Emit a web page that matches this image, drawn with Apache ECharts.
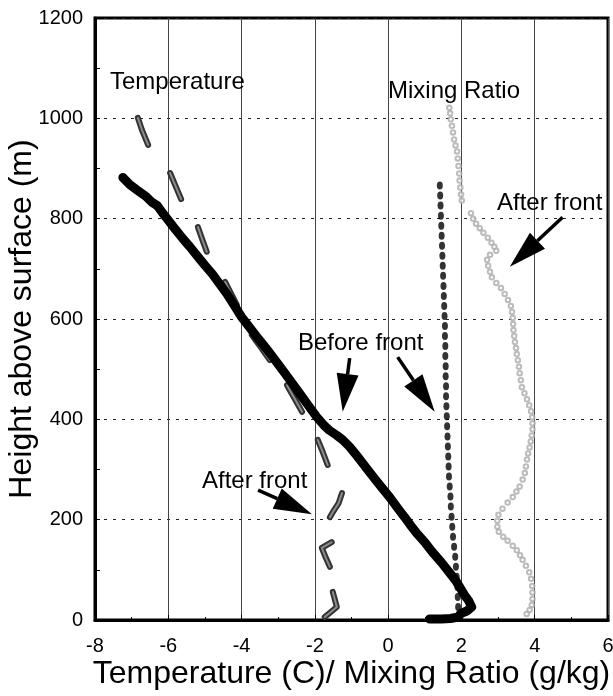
<!DOCTYPE html>
<html><head><meta charset="utf-8">
<script src="https://cdn.jsdelivr.net/npm/echarts@6/dist/echarts.min.js"></script>
<style>html,body{margin:0;padding:0;background:#fff}#c{width:613px;height:696px}</style>
</head><body><div id="c"></div>
<script>
// ---- data ----
const xTicks = [-8, -6, -4, -2, 0, 2, 4, 6];
const yTicks = [0, 200, 400, 600, 800, 1000, 1200];

// Temperature, before front (thick black line) [x, height]
const tempBefore = [
  [-7.24, 882], [-7.05, 868], [-6.85, 857], [-6.62, 845], [-6.45, 833], [-6.3, 826], [-6.18, 814],
  [-6.0, 797], [-5.8, 778], [-5.6, 760], [-5.4, 743], [-5.2, 725], [-5.0, 707], [-4.8, 690],
  [-4.6, 670], [-4.4, 650], [-4.2, 627], [-4.0, 604], [-3.8, 585], [-3.6, 566], [-3.4, 548],
  [-3.23, 532], [-3.0, 510], [-2.8, 490], [-2.6, 470], [-2.4, 450], [-2.2, 430], [-1.95, 405],
  [-1.75, 388], [-1.6, 378], [-1.4, 368], [-1.24, 359], [-1.05, 345], [-0.85, 327], [-0.7, 313],
  [-0.5, 294], [-0.35, 280], [-0.15, 262], [0.04, 245], [0.25, 224], [0.45, 205], [0.6, 190],
  [0.78, 173], [1.0, 155], [1.2, 136], [1.45, 115], [1.68, 94], [1.85, 78], [1.95, 66],
  [2.08, 50], [2.2, 38], [2.28, 26], [2.15, 18], [1.98, 13], [1.92, 6], [1.7, 3], [1.45, 2], [1.13, 2]
];

// Mixing ratio, before front (big black dots) [x, height]
const mixBefore = [
  [1.41, 866], [1.42, 846], [1.43, 826], [1.44, 806], [1.45, 786], [1.46, 766], [1.47, 746],
  [1.48, 726], [1.49, 706], [1.50, 686], [1.51, 666], [1.52, 646], [1.53, 626], [1.54, 606],
  [1.55, 586], [1.55, 566], [1.56, 546], [1.56, 526], [1.57, 506], [1.57, 486], [1.58, 466],
  [1.58, 446], [1.59, 426], [1.60, 406], [1.61, 386], [1.62, 366], [1.63, 346], [1.64, 326],
  [1.65, 306], [1.66, 286], [1.68, 266], [1.70, 246], [1.71, 226], [1.73, 206], [1.75, 186],
  [1.77, 166], [1.80, 146], [1.83, 126], [1.85, 106], [1.87, 86], [1.89, 66], [1.90, 46], [1.91, 26]
];

// Temperature, after front (broken gray segments) [x, height]
const tempAfterSegments = [
  [[-6.83, 1001], [-6.72, 977], [-6.55, 947]],
  [[-5.95, 891], [-5.80, 865], [-5.65, 839]],
  [[-5.19, 783], [-5.07, 758], [-4.95, 734]],
  [[-4.45, 674], [-4.29, 651], [-4.13, 628]],
  [[-3.72, 568], [-3.47, 543], [-3.23, 518]],
  [[-2.76, 468], [-2.55, 441], [-2.35, 415]],
  [[-1.92, 359], [-1.78, 334], [-1.65, 309]],
  [[-1.26, 253], [-1.35, 233], [-1.51, 215], [-1.59, 205]],
  [[-1.54, 155], [-1.81, 144], [-1.70, 124], [-1.59, 106]],
  [[-1.51, 56], [-1.40, 26], [-1.73, 6]]
];

// Mixing ratio, after front (small light-gray open circles) [x, height]
const mixAfter = [
  [1.67, 1021], [1.69, 1010], [1.71, 998], [1.74, 985], [1.77, 972], [1.80, 958], [1.84, 946],
  [1.88, 934], [1.90, 920], [1.92, 905], [1.94, 890], [1.95, 876], [1.97, 862], [1.99, 848], [2.01, 836],
  [2.26, 811], [2.32, 800], [2.40, 790], [2.50, 781], [2.60, 772], [2.72, 762], [2.82, 752], [2.90, 744], [2.95, 736],
  [2.78, 728], [2.70, 718], [2.73, 706], [2.78, 694], [2.83, 683], [2.95, 672], [3.08, 662], [3.18, 650],
  [3.27, 638], [3.35, 626], [3.38, 614], [3.40, 602], [3.41, 590], [3.42, 578], [3.44, 566], [3.46, 554],
  [3.49, 542], [3.51, 530], [3.54, 518], [3.57, 505], [3.59, 492], [3.62, 478], [3.65, 464], [3.72, 452],
  [3.79, 440], [3.85, 428], [3.90, 416], [3.93, 404], [3.94, 392], [3.94, 380], [3.92, 368], [3.89, 356],
  [3.86, 344], [3.82, 332], [3.79, 320], [3.76, 306], [3.73, 293], [3.67, 280], [3.59, 266], [3.50, 256],
  [3.40, 245], [3.26, 234], [3.12, 222], [3.01, 210], [2.98, 198], [2.98, 186], [3.02, 176], [3.14, 166],
  [3.26, 158], [3.40, 148], [3.51, 139], [3.60, 129], [3.67, 120], [3.76, 108], [3.85, 95], [3.90, 82],
  [3.93, 68], [3.94, 55], [3.94, 42], [3.92, 30], [3.86, 20], [3.78, 12]
];

// Annotation arrows [xTail, yTail, xTip, yTip] in data units
const arrows = [
  [4.76, 803, 3.32, 704],
  [-1.05, 522, -1.24, 415],
  [0.26, 524, 1.27, 415],
  [-3.55, 259, -2.08, 211]
];

// Annotation texts
const notes = [
  { text: 'Temperature', left: 110, cy: 82.5 },
  { text: 'Mixing Ratio', left: 388, cy: 91 },
  { text: 'After front', left: 497, cy: 203 },
  { text: 'Before front', left: 298, cy: 343.5 },
  { text: 'After front', left: 202, cy: 481 }
];

// ---- chart ----
const FONT = '"Liberation Sans", Arial, Helvetica, sans-serif';
const chart = echarts.init(document.getElementById('c'), null, { renderer: 'canvas' });

const series = [];
series.push({
  type: 'scatter', data: mixAfter, symbol: 'emptyCircle', symbolSize: 4.5,
  itemStyle: { color: '#ababab', borderColor: '#ababab', borderWidth: 1 }, z: 2, silent: true
});
tempAfterSegments.forEach(seg => {
  series.push({
    type: 'line', data: seg, symbol: 'none', z: 3, silent: true,
    lineStyle: { color: '#333', width: 6, cap: 'round', join: 'round' }
  });
  series.push({
    type: 'line', data: seg, symbol: 'none', z: 4, silent: true,
    lineStyle: { color: '#8c8c8c', width: 2, cap: 'round', join: 'round' }
  });
});
series.push({
  type: 'scatter', data: mixBefore, symbol: 'circle', symbolSize: [6, 8],
  itemStyle: { color: '#000' }, z: 5, silent: true
});
series.push({
  type: 'line', data: tempBefore, symbol: 'none', z: 6, silent: true,
  lineStyle: { color: '#000', width: 9, cap: 'round', join: 'round' }
});
series.push({
  type: 'custom', data: arrows, z: 7, silent: true, clip: false,
  encode: { x: [0, 2], y: [1, 3] },
  renderItem: function (params, api) {
    const p1 = api.coord([api.value(0), api.value(1)]);
    const p2 = api.coord([api.value(2), api.value(3)]);
    const dx = p2[0] - p1[0], dy = p2[1] - p1[1];
    const len = Math.hypot(dx, dy);
    const ux = dx / len, uy = dy / len;
    const L = 38, W = 11;
    const bx = p2[0] - ux * L, by = p2[1] - uy * L;
    const nx = -uy, ny = ux;
    return {
      type: 'group', children: [
        { type: 'line', shape: { x1: p1[0], y1: p1[1], x2: bx, y2: by }, style: { stroke: '#000', lineWidth: 3.5 } },
        { type: 'polygon', shape: { points: [[p2[0], p2[1]], [bx + nx * W, by + ny * W], [bx - nx * W, by - ny * W]] }, style: { fill: '#000' } }
      ]
    };
  }
});

const option = {
  backgroundColor: '#fff',
  animation: false,
  grid: {
    left: 95, top: 18, width: 513, height: 602, containLabel: false, outerBoundsMode: 'none',
    show: true, borderColor: '#000', borderWidth: 3, backgroundColor: 'transparent'
  },
  xAxis: {
    type: 'value', min: xTicks[0], max: xTicks[xTicks.length - 1], interval: 2,
    name: 'Temperature (C)/ Mixing Ratio (g/kg)', nameLocation: 'middle', nameGap: 38, nameMoveOverlap: false,
    nameTextStyle: { fontSize: 32, fontFamily: FONT, color: '#000' },
    axisLine: { show: true, onZero: false, lineStyle: { color: '#000', width: 3 } },
    axisTick: { show: true, inside: true, length: 5, lineStyle: { color: '#000' } },
    minorTick: { show: true, splitNumber: 2, length: 3, lineStyle: { color: '#000' } },
    axisLabel: { fontSize: 20, fontFamily: FONT, color: '#000', margin: 16, formatter: v => String(v) },
    splitLine: { show: true, lineStyle: { color: '#444', width: 1, type: 'solid' } }
  },
  yAxis: {
    type: 'value', min: yTicks[0], max: yTicks[yTicks.length - 1], interval: 200,
    name: 'Height above surface (m)', nameLocation: 'middle', nameGap: 57, nameMoveOverlap: false,
    nameTextStyle: { fontSize: 32, fontFamily: FONT, color: '#000' },
    axisLine: { show: true, onZero: false, lineStyle: { color: '#000', width: 3 } },
    axisTick: { show: true, inside: true, length: 5, lineStyle: { color: '#000' } },
    minorTick: { show: true, splitNumber: 2, length: 5, lineStyle: { color: '#000' } },
    axisLabel: { fontSize: 20, fontFamily: FONT, color: '#000', margin: 12, formatter: v => String(v) },
    splitLine: { show: true, lineStyle: { color: '#222', width: 1, type: [3, 6] } }
  },
  graphic: notes.map(n => ({
    type: 'text', x: n.left, y: n.cy, z: 100, silent: true,
    style: { text: n.text, fontSize: 24, fontFamily: FONT, fill: '#000', textAlign: 'left', textVerticalAlign: 'middle' }
  })),
  series: series
};
chart.setOption(option);
</script>
</body></html>
